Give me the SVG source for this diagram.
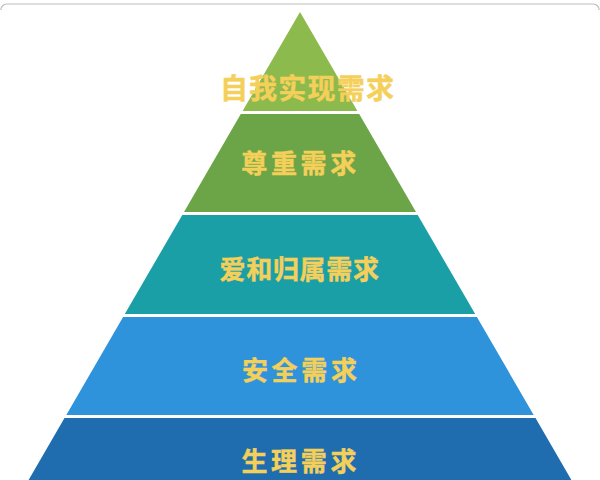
<svg xmlns="http://www.w3.org/2000/svg" width="600" height="480" viewBox="0 0 600 480">
<style>
.lbl{font-family:"Noto Sans CJK SC","Noto Sans",sans-serif;font-weight:bold;fill:#F4D05A;stroke:#F4D05A;stroke-width:0.4;text-anchor:middle;dominant-baseline:central}
.frame{fill:none;stroke:#BDBDBD;stroke-width:1.2}
</style>
<rect width="600" height="480" fill="#FFFFFF"/>
<path class="frame" d="M0.8,10 A6,6 0 0 1 6.8,4 H593.2 A6,6 0 0 1 599.2,10"/>
<g id="layer1">
<polygon points="300,12 357.4,111 242.6,111" fill="#8DBA4C"/>
<text class="lbl" x="307.5" y="87" font-size="28" letter-spacing="1.2">自我实现需求</text>
</g>
<g id="layer2">
<polygon points="240.8,114 359.2,114 416,212 184,212" fill="#6BA547"/>
<text class="lbl" x="300.6" y="161" font-size="26" letter-spacing="3.7">尊重需求</text>
</g>
<g id="layer3">
<polygon points="182.3,215 417.7,215 475.2,314 124.8,314" fill="#1B9FA7"/>
<text class="lbl" x="299.6" y="267" font-size="26" letter-spacing="0.7">爱和归属需求</text>
</g>
<g id="layer4">
<polygon points="123.1,317 476.9,317 533.7,415 66.3,415" fill="#2F93DB"/>
<text class="lbl" x="301.3" y="368.5" font-size="26" letter-spacing="3.7">安全需求</text>
</g>
<g id="layer5">
<polygon points="64.5,418 535.5,418 577.2,490 22.8,490" fill="#1F6DAF"/>
<text class="lbl" x="300.8" y="459" font-size="26" letter-spacing="3.7">生理需求</text>
</g>
</svg>
